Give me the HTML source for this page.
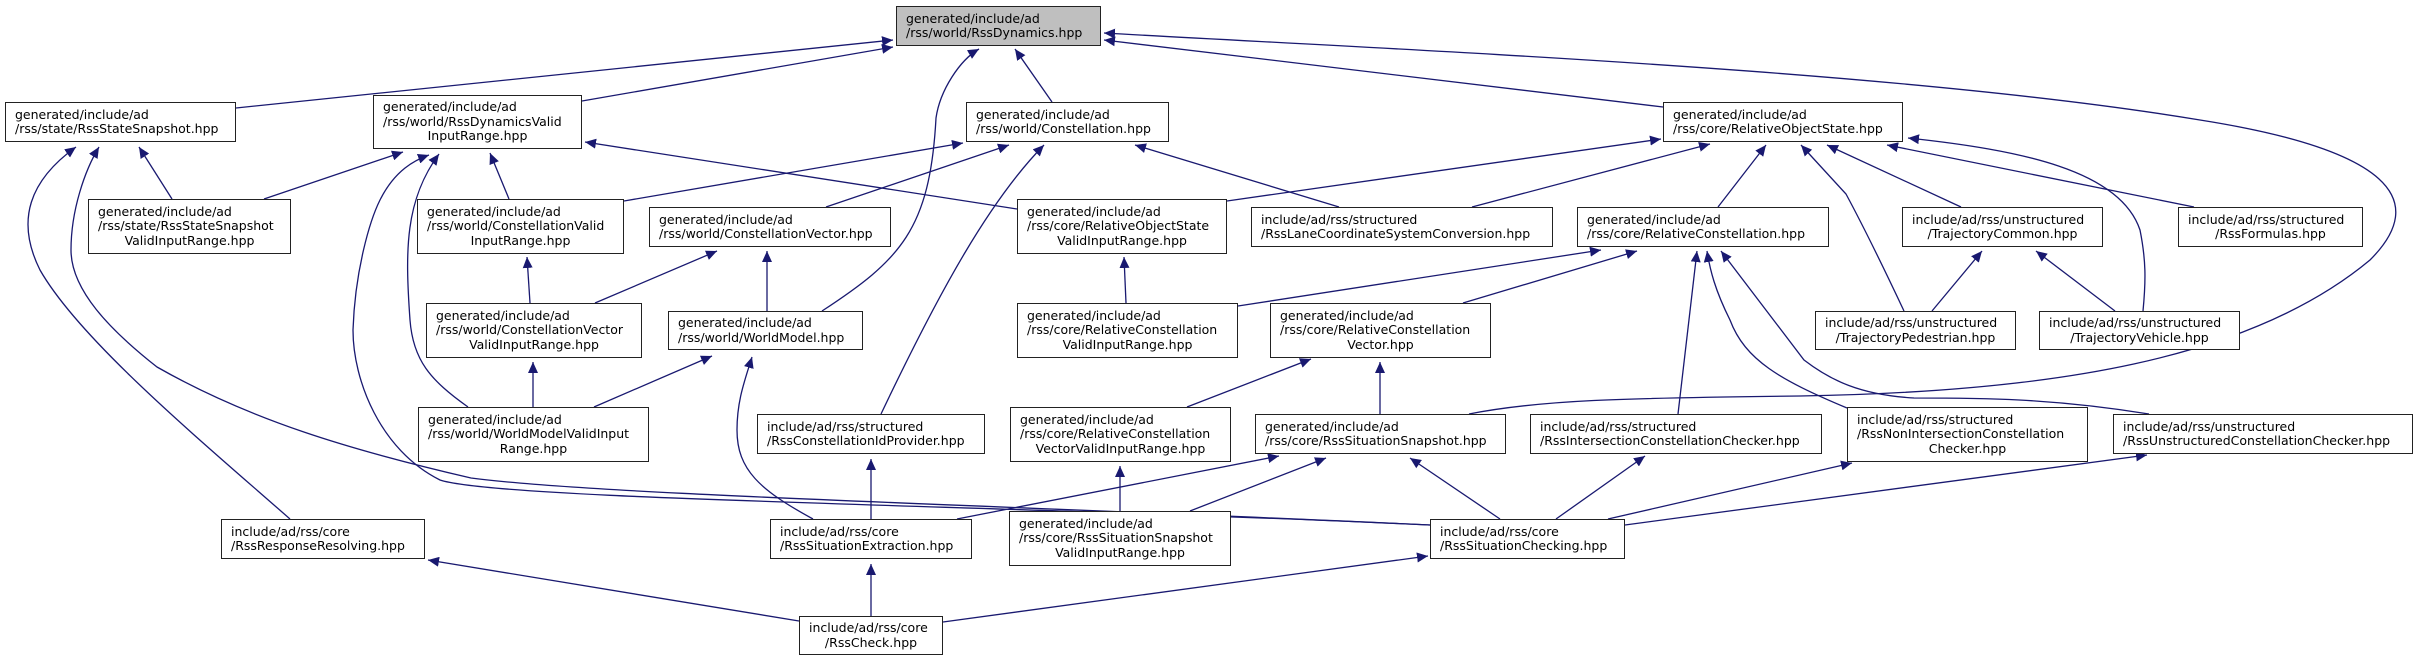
<!DOCTYPE html>
<html><head><meta charset="utf-8"><style>
body{margin:0;background:#fff;width:2413px;height:661px;overflow:hidden;position:relative;font-family:"DejaVu Sans","Liberation Sans",sans-serif;}
.n{position:absolute;box-sizing:border-box;border:1.3px solid #222;background:#fff;font-size:12.5px;line-height:14.5px;color:#000;display:flex;flex-direction:column;justify-content:center;padding:0 9px;white-space:nowrap;overflow:hidden}
.n div{text-align:left}
.n div.c{text-align:center}
svg{position:absolute;left:0;top:0}
</style></head><body>
<svg width="2413" height="661" viewBox="0 0 2413 661">
<defs><marker id="a" markerUnits="userSpaceOnUse" markerWidth="12" markerHeight="10" refX="11" refY="5" orient="auto"><path d="M0,0 L11,5 L0,10 z" fill="#191970"/></marker></defs>
<g fill="none" stroke="#191970" stroke-width="1.3" marker-end="url(#a)">
<path d="M236,108 L893,40"/>
<path d="M582,101 L893,47"/>
<path d="M1052,102 L1015,49"/>
<path d="M822,311 C900,260 930,230 936,118 C940,90 960,60 979,49"/>
<path d="M1663,107 L1104,40"/>
<path d="M1469,414 C1540,400 1620,398 1800,396 C2050,392 2250,360 2370,260 C2430,200 2390,150 2200,120 C1900,70 1400,50 1104,33"/>
<path d="M624,201 L963,143"/>
<path d="M826,207 L1009,145"/>
<path d="M881,414 C940,290 990,200 1044,145"/>
<path d="M1339,207 L1135,145"/>
<path d="M264,199 L403,152"/>
<path d="M509,199 L490,153"/>
<path d="M1017,209 L585,142"/>
<path d="M468,407 C430,380 413,360 410,320 C405,250 405,200 439,154"/>
<path d="M1430,525 C1000,505 500,500 440,480 C380,450 353,380 353,330 C355,270 370,220 380,200 C395,170 415,160 429,155"/>
<path d="M172,199 L139,147"/>
<path d="M290,519 C200,440 80,340 40,270 C15,220 30,180 76,147"/>
<path d="M1430,525 C1000,505 600,495 471,478 C350,450 250,420 157,367 C110,330 71,290 71,250 C71,210 85,170 99,147"/>
<path d="M530,303 L527,257"/>
<path d="M595,303 L717,251"/>
<path d="M767,311 L767,251"/>
<path d="M533,407 L533,362"/>
<path d="M594,407 L712,356"/>
<path d="M813,519 C760,490 737,470 737,430 C737,400 745,380 752,357"/>
<path d="M871,519 L871,459"/>
<path d="M871,616 L871,564"/>
<path d="M943,622 L1428,556"/>
<path d="M799,621 L428,560"/>
<path d="M1227,201 L1661,139"/>
<path d="M1472,207 L1710,144"/>
<path d="M1718,207 L1766,145"/>
<path d="M1904,311 C1880,260 1860,220 1846,194 L1801,145"/>
<path d="M1961,207 L1827,145"/>
<path d="M2194,207 L1887,145"/>
<path d="M2143,311 C2146,280 2146,260 2140,230 C2120,170 2020,150 1908,138"/>
<path d="M1126,303 L1124,257"/>
<path d="M1238,306 L1601,250"/>
<path d="M1463,303 L1637,251"/>
<path d="M1678,414 L1697,251"/>
<path d="M1847,408 C1780,380 1745,360 1730,320 C1715,290 1710,270 1707,251"/>
<path d="M2149,414 C2050,398 1980,398 1914,398 C1860,395 1830,380 1804,360 L1721,251"/>
<path d="M1187,407 L1311,359"/>
<path d="M1380,414 L1380,362"/>
<path d="M1120,511 L1120,466"/>
<path d="M1932,311 L1982,251"/>
<path d="M2115,311 L2036,251"/>
<path d="M957,519 L1279,456"/>
<path d="M1190,511 L1326,458"/>
<path d="M1500,519 L1410,458"/>
<path d="M1556,519 L1645,456"/>
<path d="M1608,519 L1852,463"/>
<path d="M1625,525 L2147,455"/>
</g>
</svg>
<div class="n" style="left:896px;top:6px;width:205px;height:40px;background:#bfbfbf"><div>generated/include/ad</div><div>/rss/world/RssDynamics.hpp</div></div>
<div class="n" style="left:5px;top:102px;width:231px;height:40px"><div>generated/include/ad</div><div>/rss/state/RssStateSnapshot.hpp</div></div>
<div class="n" style="left:373px;top:95px;width:209px;height:54px"><div>generated/include/ad</div><div>/rss/world/RssDynamicsValid</div><div class="c">InputRange.hpp</div></div>
<div class="n" style="left:966px;top:102px;width:203px;height:40px"><div>generated/include/ad</div><div>/rss/world/Constellation.hpp</div></div>
<div class="n" style="left:1663px;top:102px;width:240px;height:40px"><div>generated/include/ad</div><div>/rss/core/RelativeObjectState.hpp</div></div>
<div class="n" style="left:88px;top:199px;width:203px;height:55px"><div>generated/include/ad</div><div>/rss/state/RssStateSnapshot</div><div class="c">ValidInputRange.hpp</div></div>
<div class="n" style="left:417px;top:199px;width:207px;height:55px"><div>generated/include/ad</div><div>/rss/world/ConstellationValid</div><div class="c">InputRange.hpp</div></div>
<div class="n" style="left:649px;top:207px;width:242px;height:40px"><div>generated/include/ad</div><div>/rss/world/ConstellationVector.hpp</div></div>
<div class="n" style="left:1017px;top:199px;width:210px;height:55px"><div>generated/include/ad</div><div>/rss/core/RelativeObjectState</div><div class="c">ValidInputRange.hpp</div></div>
<div class="n" style="left:1251px;top:207px;width:302px;height:40px"><div>include/ad/rss/structured</div><div>/RssLaneCoordinateSystemConversion.hpp</div></div>
<div class="n" style="left:1577px;top:207px;width:252px;height:40px"><div>generated/include/ad</div><div>/rss/core/RelativeConstellation.hpp</div></div>
<div class="n" style="left:1902px;top:207px;width:201px;height:40px"><div>include/ad/rss/unstructured</div><div class="c">/TrajectoryCommon.hpp</div></div>
<div class="n" style="left:2178px;top:207px;width:185px;height:40px"><div>include/ad/rss/structured</div><div class="c">/RssFormulas.hpp</div></div>
<div class="n" style="left:426px;top:303px;width:216px;height:55px"><div>generated/include/ad</div><div>/rss/world/ConstellationVector</div><div class="c">ValidInputRange.hpp</div></div>
<div class="n" style="left:668px;top:311px;width:195px;height:39px"><div>generated/include/ad</div><div>/rss/world/WorldModel.hpp</div></div>
<div class="n" style="left:1017px;top:303px;width:221px;height:55px"><div>generated/include/ad</div><div>/rss/core/RelativeConstellation</div><div class="c">ValidInputRange.hpp</div></div>
<div class="n" style="left:1270px;top:303px;width:221px;height:55px"><div>generated/include/ad</div><div>/rss/core/RelativeConstellation</div><div class="c">Vector.hpp</div></div>
<div class="n" style="left:1815px;top:311px;width:201px;height:39px"><div>include/ad/rss/unstructured</div><div class="c">/TrajectoryPedestrian.hpp</div></div>
<div class="n" style="left:2039px;top:311px;width:201px;height:39px"><div>include/ad/rss/unstructured</div><div class="c">/TrajectoryVehicle.hpp</div></div>
<div class="n" style="left:418px;top:407px;width:231px;height:55px"><div>generated/include/ad</div><div>/rss/world/WorldModelValidInput</div><div class="c">Range.hpp</div></div>
<div class="n" style="left:757px;top:414px;width:228px;height:40px"><div>include/ad/rss/structured</div><div>/RssConstellationIdProvider.hpp</div></div>
<div class="n" style="left:1010px;top:407px;width:221px;height:55px"><div>generated/include/ad</div><div>/rss/core/RelativeConstellation</div><div class="c">VectorValidInputRange.hpp</div></div>
<div class="n" style="left:1255px;top:414px;width:251px;height:40px"><div>generated/include/ad</div><div>/rss/core/RssSituationSnapshot.hpp</div></div>
<div class="n" style="left:1530px;top:414px;width:292px;height:40px"><div>include/ad/rss/structured</div><div>/RssIntersectionConstellationChecker.hpp</div></div>
<div class="n" style="left:1847px;top:407px;width:241px;height:55px"><div>include/ad/rss/structured</div><div>/RssNonIntersectionConstellation</div><div class="c">Checker.hpp</div></div>
<div class="n" style="left:2113px;top:414px;width:300px;height:40px"><div>include/ad/rss/unstructured</div><div>/RssUnstructuredConstellationChecker.hpp</div></div>
<div class="n" style="left:221px;top:519px;width:204px;height:40px"><div>include/ad/rss/core</div><div>/RssResponseResolving.hpp</div></div>
<div class="n" style="left:770px;top:519px;width:202px;height:40px"><div>include/ad/rss/core</div><div>/RssSituationExtraction.hpp</div></div>
<div class="n" style="left:1009px;top:511px;width:222px;height:55px"><div>generated/include/ad</div><div>/rss/core/RssSituationSnapshot</div><div class="c">ValidInputRange.hpp</div></div>
<div class="n" style="left:1430px;top:519px;width:195px;height:40px"><div>include/ad/rss/core</div><div>/RssSituationChecking.hpp</div></div>
<div class="n" style="left:799px;top:616px;width:144px;height:39px"><div>include/ad/rss/core</div><div class="c">/RssCheck.hpp</div></div>
</body></html>
